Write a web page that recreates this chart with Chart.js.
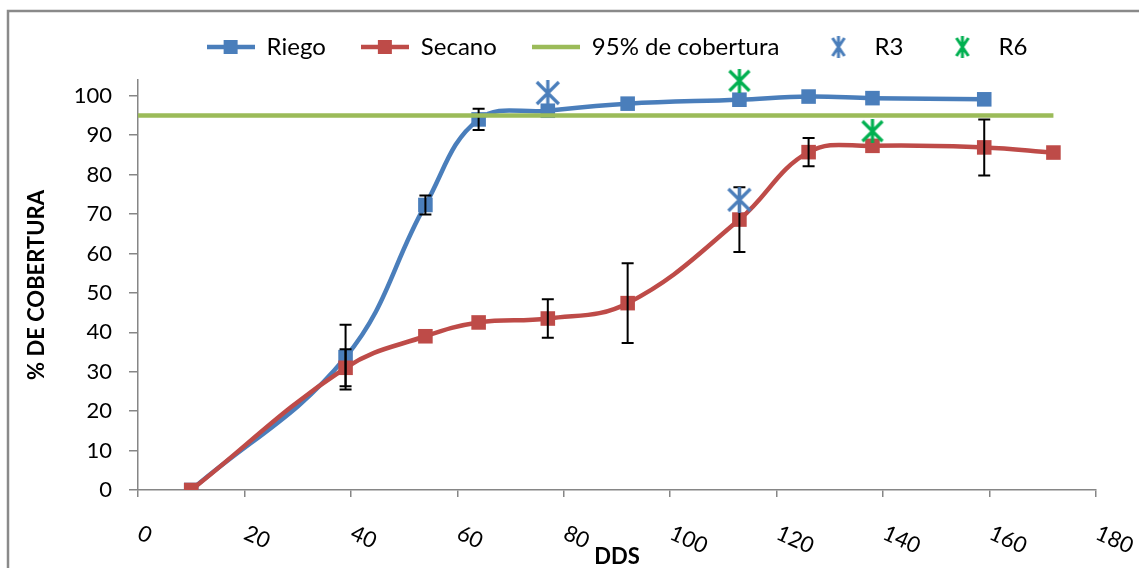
<!DOCTYPE html>
<html lang="es">
<head>
<meta charset="utf-8">
<title>% de cobertura – Riego vs Secano</title>
<script src="https://cdn.jsdelivr.net/npm/chart.js@4.4.1/dist/chart.umd.min.js"></script>
<style>
  html, body { margin: 0; padding: 0; background: #fff; }
  #wrap { width: 1139px; height: 568px; }
</style>
</head>
<body>
<div id="wrap"><canvas id="cobertura" width="1139" height="568"></canvas></div>
<script>
// ============ Datos ============
const diasRiego  = [10, 39, 54, 64, 77, 92, 113, 126, 138, 159];
const riego      = [0, 33.7, 72.3, 94, 96.2, 98, 99, 99.8, 99.4, 99.1];
const riegoDE    = [null, 8.2, 2.4, 2.7, null, null, null, null, null, null];

const diasSecano = [10, 39, 54, 64, 77, 92, 113, 126, 138, 159, 172];
const secano     = [0, 31, 39, 42.5, 43.5, 47.4, 68.6, 85.7, 87.3, 86.9, 85.6];
const secanoDE   = [null, 4.7, null, null, 4.9, 10.1, 8.2, 3.6, null, 7.1, null];

const diasUmbral = [0, 172];
const umbral     = [95, 95];

const diasR3 = [77, 113];
const valR3  = [100.7, 73.6];
const diasR6 = [113, 138];
const valR6  = [103.8, 91];

const ticksX = [0, 20, 40, 60, 80, 100, 120, 140, 160, 180];
const ticksY = [0, 10, 20, 30, 40, 50, 60, 70, 80, 90, 100];

(function () {
  'use strict';

  const AZUL  = '#4A7EBB';
  const ROJO  = '#BE4B48';
  const OLIVA = '#9BBB59';
  const VERDE = '#00B050';
  const GRIS  = '#868686';
  const FUENTE = 'Lato';

  function puntos(xs, ys) {
    return xs.map(function (x, i) { return { x: x, y: ys[i] }; });
  }

  // ---- iconos (marcador estrella de Excel, leyenda línea + cuadrado) ----
  function estrella(color, w, h, lw) {
    const c = document.createElement('canvas');
    c.width = w; c.height = h;
    const g = c.getContext('2d');
    g.strokeStyle = color; g.lineWidth = lw; g.lineCap = 'butt';
    g.beginPath();
    g.moveTo(2, 2); g.lineTo(w - 2, h - 2);
    g.moveTo(w - 2, 2); g.lineTo(2, h - 2);
    g.moveTo(w / 2, 0); g.lineTo(w / 2, h);
    g.stroke();
    return c;
  }

  function lineaIcono(color, cuadro) {
    const c = document.createElement('canvas');
    c.width = 48; c.height = 16;
    const g = c.getContext('2d');
    g.strokeStyle = color; g.lineWidth = 4.5;
    g.beginPath(); g.moveTo(0, 8); g.lineTo(48, 8); g.stroke();
    if (cuadro) { g.fillStyle = color; g.fillRect(17, 1, 14, 14); }
    return c;
  }

  const iconos = [
    lineaIcono(AZUL, true),
    lineaIcono(ROJO, true),
    lineaIcono(OLIVA, false),
    estrella(AZUL, 16, 22, 3),
    estrella(VERDE, 16, 22, 3)
  ];

  // ---- marco del área del gráfico ----
  const marco = {
    id: 'marco',
    beforeDraw: function (chart) {
      const ctx = chart.ctx;
      ctx.save();
      ctx.fillStyle = '#fff';
      ctx.fillRect(0, 0, chart.width, chart.height);
      ctx.strokeStyle = '#8A8A8A';
      ctx.lineWidth = 2.5;
      ctx.strokeRect(8, 11, 1300, 800);
      ctx.restore();
    }
  };

  // ---- barras de error (después de dibujar Secano) ----
  const barrasError = {
    id: 'barrasError',
    afterDatasetDraw: function (chart, args) {
      if (args.index !== 1) return;
      const ctx = chart.ctx;
      const x = chart.scales.x, y = chart.scales.y;
      ctx.save();
      ctx.strokeStyle = '#000';
      ctx.lineWidth = 2;
      chart.data.datasets.forEach(function (ds) {
        if (!ds.errorBars) return;
        ds.data.forEach(function (p, i) {
          const e = ds.errorBars[i];
          if (e == null) return;
          const px = x.getPixelForValue(p.x);
          const top = y.getPixelForValue(p.y + e);
          const bot = y.getPixelForValue(p.y - e);
          ctx.beginPath();
          ctx.moveTo(px, top); ctx.lineTo(px, bot);
          ctx.moveTo(px - 6, top); ctx.lineTo(px + 6, top);
          ctx.moveTo(px - 6, bot); ctx.lineTo(px + 6, bot);
          ctx.stroke();
        });
      });
      ctx.restore();
    }
  };

  // ---- etiquetas del eje X giradas en sentido horario ----
  const etiquetasX = {
    id: 'etiquetasX',
    afterDraw: function (chart) {
      const ctx = chart.ctx;
      const x = chart.scales.x;
      ctx.save();
      ctx.font = '22px ' + FUENTE;
      ctx.fillStyle = '#000';
      ctx.textAlign = 'left';
      ctx.textBaseline = 'middle';
      x.ticks.forEach(function (t) {
        const px = x.getPixelForValue(t.value);
        ctx.save();
        ctx.translate(px + 1, x.top + 42);
        ctx.rotate(24 * Math.PI / 180);
        ctx.fillText(String(t.value), 0, 0);
        ctx.restore();
      });
      ctx.restore();
    }
  };

  Chart.defaults.font.family = FUENTE;
  Chart.defaults.color = '#000';

  new Chart(document.getElementById('cobertura'), {
    type: 'line',
    data: {
      datasets: [
        {
          label: 'Riego',
          data: puntos(diasRiego, riego),
          errorBars: riegoDE,
          borderColor: AZUL,
          backgroundColor: AZUL,
          borderWidth: 4.5,
          tension: 0.4,
          pointStyle: 'rect',
          pointRadius: 10.3,
          pointBorderWidth: 0,
          order: 5
        },
        {
          label: 'Secano',
          data: puntos(diasSecano, secano),
          errorBars: secanoDE,
          borderColor: ROJO,
          backgroundColor: ROJO,
          borderWidth: 4.5,
          tension: 0.4,
          pointStyle: 'rect',
          pointRadius: 10.3,
          pointBorderWidth: 0,
          order: 4
        },
        {
          label: '95% de cobertura',
          data: puntos(diasUmbral, umbral),
          borderColor: OLIVA,
          borderWidth: 4.5,
          pointRadius: 0,
          order: 3
        },
        {
          label: 'R3',
          data: puntos(diasR3, valR3),
          showLine: false,
          pointStyle: estrella(AZUL, 26, 26, 3.2),
          pointRadius: 13,
          clip: false,
          order: 2
        },
        {
          label: 'R6',
          data: puntos(diasR6, valR6),
          showLine: false,
          pointStyle: estrella(VERDE, 24, 24, 3.2),
          pointRadius: 12,
          clip: false,
          order: 1
        }
      ]
    },
    options: {
      responsive: false,
      animation: false,
      events: [],
      layout: { padding: { left: 8, right: 43, top: 0, bottom: 0 } },
      plugins: {
        tooltip: { enabled: false },
        title: {
          display: true,
          text: '',
          padding: { top: 0, bottom: 10 },
          font: { size: 1, lineHeight: 1 }
        },
        legend: {
          position: 'top',
          fullSize: false,
          weight: 3000,
          labels: {
            usePointStyle: true,
            pointStyleWidth: 48,
            padding: 35,
            color: '#000',
            font: { size: 24 },
            generateLabels: function (chart) {
              return chart.data.datasets.map(function (ds, i) {
                return {
                  text: ds.label,
                  datasetIndex: i,
                  pointStyle: iconos[i],
                  fillStyle: 'transparent',
                  strokeStyle: 'transparent',
                  lineWidth: 0,
                  hidden: false
                };
              });
            }
          }
        }
      },
      scales: {
        x: {
          type: 'linear',
          min: 0,
          max: 180,
          bounds: 'data',
          afterBuildTicks: function (s) {
            s.ticks = ticksX.map(function (v) { return { value: v }; });
          },
          afterFit: function (s) { s.height = 78; },
          ticks: { display: false },
          grid: {
            drawOnChartArea: false,
            drawTicks: true,
            tickLength: 7,
            color: GRIS,
            lineWidth: 1.5
          },
          border: { color: GRIS, width: 1.5 },
          title: {
            display: true,
            text: 'DDS',
            color: '#000',
            padding: { top: 0, bottom: 0 },
            font: { size: 22, weight: 'bold', lineHeight: 1 }
          }
        },
        y: {
          min: 0,
          max: 104,
          bounds: 'data',
          afterBuildTicks: function (s) {
            s.ticks = ticksY.map(function (v) { return { value: v }; });
          },
          afterFit: function (s) { s.width = 130; },
          ticks: {
            padding: 17,
            color: '#000',
            font: { size: 22 }
          },
          grid: {
            drawOnChartArea: false,
            drawTicks: true,
            tickLength: 9,
            color: GRIS,
            lineWidth: 1.5
          },
          border: { color: GRIS, width: 1.5 },
          title: {
            display: true,
            text: '% DE COBERTURA',
            color: '#000',
            padding: { top: 16, bottom: 0 },
            font: { size: 22, weight: 'bold' }
          }
        }
      }
    },
    plugins: [marco, barrasError, etiquetasX]
  });
})();
</script>
</body>
</html>
